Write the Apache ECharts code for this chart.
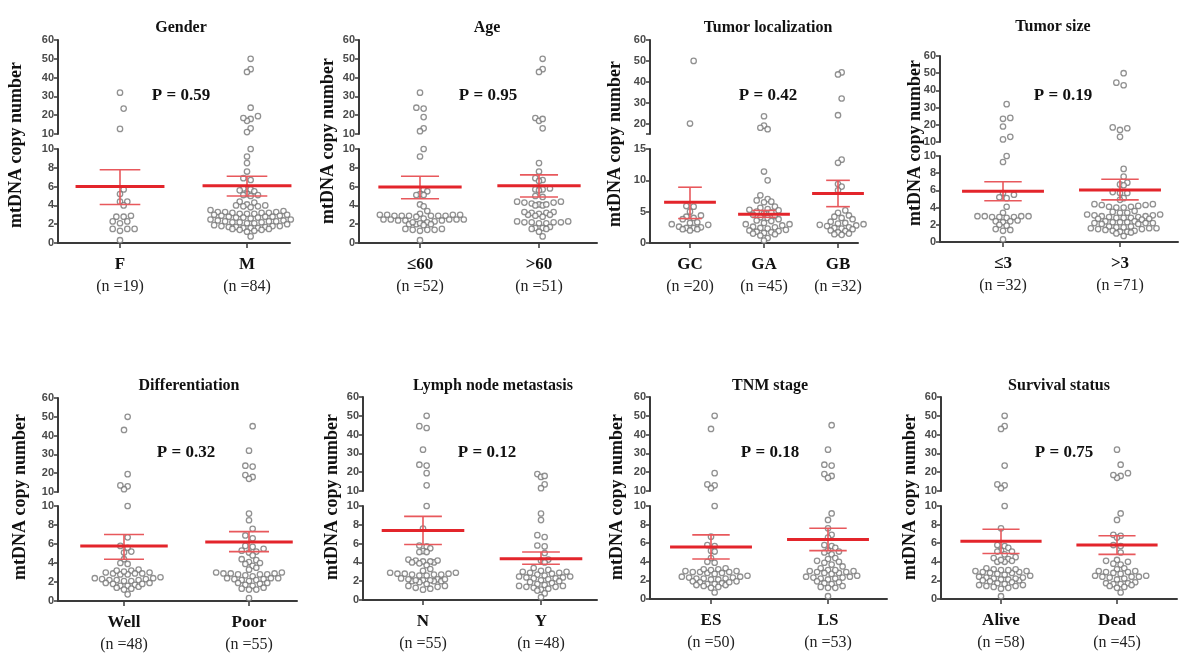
<!DOCTYPE html>
<html><head><meta charset="utf-8">
<script src="https://cdn.jsdelivr.net/npm/echarts@6/dist/echarts.min.js"></script>
<style>html,body{margin:0;padding:0;background:#fff}#c{width:1200px;height:668px}</style>
</head><body><div id="c"></div>
<script>
// ---------------- data ----------------
const titles = ['Gender', 'Age', 'Tumor localization', 'Tumor size', 'Differentiation', 'Lymph node metastasis', 'TNM stage', 'Survival status'];
const pLabels = ['P = 0.59', 'P = 0.95', 'P = 0.42', 'P = 0.19', 'P = 0.32', 'P = 0.12', 'P = 0.18', 'P = 0.75'];
const categories = [['F', 'M'], ['≤60', '>60'], ['GC', 'GA', 'GB'], ['≤3', '>3'], ['Well', 'Poor'], ['N', 'Y'], ['ES', 'LS'], ['Alive', 'Dead']];
const groupN = [[19, 84], [52, 51], [20, 45, 32], [32, 71], [48, 55], [55, 48], [50, 53], [58, 45]];
const yAxisName = 'mtDNA copy number';
const breakValues = [10, 10, 15, 10, 10, 10, 10, 10];
const axisTop = 60;
const lowerTicks = [0, 2, 4, 6, 8, 10];
const upperTicks = [10, 20, 30, 40, 50, 60];
const locLowerTicks = [0, 5, 10, 15];
const locUpperTicks = [15, 20, 30, 40, 50, 60];
const locUpperLabels = [20, 30, 40, 50, 60];

const meanValues = [[6.0, 6.1], [5.95, 6.1], [6.5, 4.6, 7.9], [5.9, 6.05], [5.8, 6.2], [7.4, 4.4], [5.6, 6.4], [6.2, 5.8]];
const semLow = [[4.1, 5.0], [4.7, 4.9], [3.9, 4.1, 5.8], [4.8, 4.9], [4.4, 5.2], [5.9, 3.8], [4.3, 5.2], [4.9, 4.8]];
const semHigh = [[7.8, 7.1], [7.1, 7.25], [8.9, 5.2, 10.0], [7.0, 7.3], [7.0, 7.3], [8.9, 5.1], [6.9, 7.6], [7.5, 6.8]];

const gender_F = [32, 23.5, 12.7, 5.7, 5.2, 4.4, 4.4, 4.0, 2.9, 2.8, 2.8, 2.3, 2.1, 2.3, 1.5, 1.5, 1.5, 1.3, 0.3];
const gender_M = [50, 44.5, 43, 24, 19.5, 18, 17, 18.5, 13, 11, 10.0, 9.2, 8.5, 7.6, 6.9, 6.7, 5.8, 5.7, 5.6, 5.5, 5.2, 5.1, 5.1, 5.0, 4.4, 4.3, 4.1, 4.0, 4.0, 3.9, 3.9, 3.8, 3.1, 3.1, 3.1, 3.2, 3.2, 3.2, 3.3, 3.3, 3.3, 3.4, 3.5, 2.6, 2.7, 2.7, 2.7, 2.8, 2.8, 2.8, 2.9, 2.9, 3.0, 3.0, 2.1, 2.1, 2.2, 2.2, 2.2, 2.3, 2.3, 2.3, 2.4, 2.4, 2.5, 2.5, 1.6, 1.6, 1.6, 1.7, 1.7, 1.7, 1.8, 1.8, 1.8, 1.9, 2.0, 1.2, 1.3, 1.4, 1.4, 1.5, 1.5, 0.7];
const age_le60 = [32, 23.5, 24, 19, 13, 11.5, 10.0, 9.2, 5.7, 5.5, 5.2, 5.1, 5.1, 4.1, 3.9, 3.4, 3.1, 3.0, 3.0, 2.9, 2.9, 2.9, 2.9, 2.9, 2.8, 2.9, 3.0, 3.0, 2.6, 2.5, 2.5, 2.4, 2.5, 2.4, 2.5, 2.4, 2.5, 2.3, 2.2, 2.0, 2.1, 2.0, 1.9, 2.0, 2.2, 1.5, 1.4, 1.4, 1.3, 1.4, 1.5, 0.3];
const age_gt60 = [50, 44.5, 43, 18.5, 17, 18, 13, 8.5, 7.6, 6.9, 6.7, 6.6, 5.8, 5.7, 5.7, 5.6, 5.0, 4.9, 4.4, 4.3, 4.2, 4.1, 4.0, 4.0, 4.1, 4.3, 4.4, 3.3, 3.2, 3.0, 3.1, 3.2, 3.0, 3.3, 2.9, 2.8, 2.3, 2.2, 2.2, 2.1, 2.2, 2.3, 2.1, 2.2, 1.7, 1.6, 1.5, 1.6, 1.5, 1.2, 0.7];
const loc_GC = [50, 20, 5.9, 5.8, 5.0, 4.4, 4.2, 4.0, 3.8, 3.3, 3.2, 3.0, 2.9, 2.6, 2.5, 2.4, 2.4, 2.2, 2.2, 2.0];
const loc_GA = [23.5, 19, 18, 17.3, 11.4, 10.0, 7.6, 7.0, 6.8, 6.6, 6.5, 5.8, 5.6, 5.4, 5.3, 5.2, 5.0, 4.9, 4.7, 4.5, 4.3, 4.1, 4.0, 3.8, 3.6, 3.5, 3.2, 3.0, 3.0, 2.8, 2.6, 2.5, 2.4, 2.3, 2.1, 2.0, 1.9, 1.8, 1.7, 1.6, 1.5, 1.4, 1.2, 0.8, 0.4];
const loc_GB = [44.5, 43.5, 32, 24, 13.3, 12.8, 9.4, 9.0, 8.4, 5.2, 4.8, 4.4, 4.2, 4.0, 3.8, 3.4, 3.2, 3.1, 3.0, 2.9, 2.8, 2.7, 2.5, 2.4, 2.3, 2.2, 2.0, 1.9, 1.7, 1.5, 1.4, 1.3];
const size_le3 = [32, 23.5, 24, 19, 13, 11.5, 10.0, 9.3, 5.7, 5.5, 5.2, 5.1, 4.1, 3.4, 3.0, 3.0, 2.9, 2.9, 2.8, 2.9, 3.0, 3.0, 2.5, 2.4, 2.4, 2.3, 2.0, 1.9, 1.5, 1.4, 1.3, 0.3];
const size_gt3 = [50, 44.5, 43, 18.5, 17, 18, 13, 8.5, 7.6, 6.9, 6.7, 6.6, 5.8, 5.7, 5.7, 5.1, 4.9, 4.4, 4.3, 4.2, 4.1, 4.0, 4.0, 4.1, 4.3, 4.4, 3.4, 3.5, 3.2, 3.1, 3.2, 3.0, 3.6, 3.1, 3.0, 3.4, 2.9, 2.8, 2.7, 2.8, 2.9, 2.7, 2.8, 2.6, 2.4, 2.3, 2.2, 2.2, 2.1, 2.3, 2.2, 2.4, 2.1, 2.3, 1.8, 1.7, 1.6, 1.6, 1.5, 1.7, 1.8, 1.6, 1.5, 1.4, 1.3, 1.2, 1.2, 1.3, 1.0, 0.7, 1.1];
const diff_well = [50, 43, 19.5, 13, 11.5, 13.5, 10.0, 6.7, 5.8, 5.6, 5.2, 5.1, 4.4, 4.0, 3.9, 3.3, 3.2, 3.0, 2.9, 2.9, 2.8, 2.8, 2.9, 3.0, 3.1, 3.2, 2.5, 2.4, 2.3, 2.2, 2.2, 2.1, 2.2, 2.3, 2.4, 2.1, 1.9, 1.8, 1.7, 1.6, 1.5, 1.6, 1.8, 1.9, 1.3, 1.2, 1.4, 0.7];
const diff_poor = [45, 32, 24, 23.5, 19, 18, 17, 9.2, 8.5, 7.6, 6.9, 6.6, 5.8, 5.7, 5.5, 5.3, 5.2, 5.1, 4.8, 4.4, 4.3, 4.1, 4.0, 3.9, 3.7, 3.5, 3.3, 3.0, 2.9, 2.9, 2.8, 2.7, 2.8, 2.9, 2.6, 3.0, 2.8, 2.4, 2.3, 2.2, 2.1, 2.3, 2.4, 2.2, 2.4, 1.9, 1.8, 1.6, 1.7, 1.9, 1.4, 1.3, 1.2, 1.2, 0.3];
const lymph_N = [50, 43.5, 44.5, 32, 24, 23.5, 19.5, 13, 10.0, 7.6, 5.8, 5.7, 5.5, 5.2, 5.1, 5.1, 4.3, 4.2, 4.1, 4.0, 4.0, 3.9, 4.1, 4.2, 3.7, 3.3, 3.1, 2.9, 2.8, 2.7, 2.6, 2.7, 2.8, 2.9, 2.6, 2.7, 2.8, 2.3, 2.2, 2.1, 2.0, 2.0, 2.1, 2.2, 2.0, 1.9, 2.1, 2.2, 1.7, 1.5, 1.4, 1.3, 1.5, 1.2, 1.1];
const lymph_Y = [19, 17.5, 18, 13.5, 11.5, 9.2, 8.5, 6.9, 6.7, 5.8, 5.7, 5.0, 4.3, 4.2, 4.0, 3.4, 3.2, 3.0, 2.9, 2.8, 2.9, 3.0, 3.1, 2.7, 2.6, 2.5, 2.4, 2.3, 2.2, 2.3, 2.4, 2.1, 2.5, 2.0, 1.9, 1.8, 1.7, 1.6, 1.5, 1.4, 1.3, 1.4, 1.5, 1.2, 1.1, 0.7, 0.3, 1.0];
const tnm_ES = [50, 43, 19.5, 13, 11.5, 13.5, 10.0, 6.7, 5.8, 5.7, 5.2, 5.1, 4.4, 4.0, 3.9, 3.3, 3.2, 3.0, 2.9, 2.9, 2.8, 2.8, 2.9, 3.0, 3.1, 3.2, 2.7, 2.5, 2.4, 2.3, 2.2, 2.2, 2.1, 2.2, 2.3, 2.4, 2.1, 1.9, 1.8, 1.7, 1.6, 1.5, 1.6, 1.8, 1.9, 1.3, 1.2, 1.4, 1.5, 0.7];
const tnm_LS = [45, 32, 24, 23.5, 19, 18, 17, 9.2, 8.5, 7.6, 6.9, 6.6, 5.8, 5.7, 5.5, 5.2, 5.1, 5.0, 4.8, 4.4, 4.3, 4.1, 4.0, 3.9, 3.7, 3.5, 3.3, 3.1, 3.0, 2.9, 2.8, 2.7, 2.8, 2.9, 3.0, 3.1, 2.4, 2.3, 2.2, 2.1, 2.3, 2.4, 2.2, 2.5, 1.9, 1.8, 1.6, 1.7, 1.4, 1.3, 1.2, 1.2, 0.3];
const surv_alive = [50, 44.5, 43, 23.5, 13, 11.5, 13.5, 10.0, 7.6, 5.8, 5.7, 5.5, 5.2, 5.1, 5.1, 4.8, 4.5, 4.4, 4.3, 4.0, 4.0, 4.1, 4.2, 3.3, 3.2, 3.1, 3.0, 2.9, 2.8, 2.8, 2.9, 3.0, 3.1, 3.2, 2.7, 2.6, 2.5, 2.4, 2.3, 2.2, 2.1, 2.0, 2.1, 2.2, 2.0, 2.3, 1.9, 1.8, 1.7, 1.6, 1.5, 1.4, 1.3, 1.4, 1.5, 1.2, 1.1, 0.3];
const surv_dead = [32, 24, 19.5, 18, 17, 18.5, 9.2, 8.5, 6.9, 6.8, 6.6, 5.8, 5.7, 5.0, 4.2, 4.1, 4.0, 3.8, 3.7, 3.3, 3.2, 3.0, 2.9, 2.8, 2.7, 2.9, 3.0, 2.5, 2.4, 2.4, 2.3, 2.2, 2.1, 2.5, 2.4, 1.8, 1.7, 1.6, 1.5, 1.6, 1.7, 1.3, 1.2, 1.4, 0.7];

const panelGroups = [
  [gender_F, gender_M], [age_le60, age_gt60], [loc_GC, loc_GA, loc_GB], [size_le3, size_gt3],
  [diff_well, diff_poor], [lymph_N, lymph_Y], [tnm_ES, tnm_LS], [surv_alive, surv_dead]
];

// ---------------- layout (pixels) ----------------
const layout = [
  {axisX: 58, cat0: 120, catN: 247, endX: 290, upTop: 40, upBot: 134, loTop: 149, loBot: 243},
  {axisX: 359, cat0: 420, catN: 539, endX: 597, upTop: 40, upBot: 134, loTop: 149, loBot: 243},
  {axisX: 650, cat0: 690, catN: 838, endX: 858, upTop: 40, upBot: 134, loTop: 149, loBot: 243},
  {axisX: 940, cat0: 1003, catN: 1120, endX: 1178, upTop: 56, upBot: 142, loTop: 156, loBot: 242},
  {axisX: 58, cat0: 124, catN: 249, endX: 297, upTop: 398, upBot: 492, loTop: 506, loBot: 601},
  {axisX: 363, cat0: 423, catN: 541, endX: 597, upTop: 397, upBot: 491, loTop: 506, loBot: 600},
  {axisX: 650, cat0: 711, catN: 828, endX: 887, upTop: 397, upBot: 491, loTop: 506, loBot: 599},
  {axisX: 941, cat0: 1001, catN: 1117, endX: 1177, upTop: 397, upBot: 491, loTop: 506, loBot: 599}
];
const titlePos = [[181, 28], [487, 28], [768, 28], [1053, 27], [189, 386], [493, 386], [770, 386], [1059, 386]];
const pPos = [[181, 96], [488, 96], [768, 96], [1063, 96], [186, 453], [487, 453], [770, 453], [1064, 453]];
const yNamePos = [[16, 145], [328, 141], [615, 144], [915, 143], [20, 497], [332, 497], [617, 497], [910, 497]];

const serif = "'Liberation Serif','Times New Roman',serif";
const tickLabelStyle = {fontFamily: "'Liberation Sans',Arial,sans-serif", fontWeight: 'bold', fontSize: 11, color: '#4a4a4a', margin: 4};
const axisLine = {show: true, onZero: false, lineStyle: {color: '#3a3a3a', width: 2}};
const DOT = 5.4, ROW_H = 4.8, SLOT_W = 7.3;

// honeycomb dot-plot offsets (pixels) computed from the values:
// rows of height ROW_H, alternate rows shifted by half a slot
function dotRows(vals, pxPerUnit) {
  const bins = {};
  vals.forEach((v, i) => { const b = Math.floor(v * pxPerUnit / ROW_H); (bins[b] = bins[b] || []).push(i); });
  const out = new Array(vals.length);
  Object.keys(bins).forEach(key => {
    const odd = Math.abs(Number(key)) % 2 === 1;
    const list = bins[key].slice().sort((a, b) => vals[a] - vals[b]);
    const slots = [];
    if (!odd) {
      slots.push(0);
      for (let s = 1; slots.length < list.length; s++) { slots.push(s * SLOT_W); slots.push(-s * SLOT_W); }
    } else {
      for (let s = 0; slots.length < list.length; s++) { slots.push((s + 0.5) * SLOT_W); slots.push(-(s + 0.5) * SLOT_W); }
    }
    list.forEach((idx, j) => { out[idx] = slots[j]; });
  });
  return out;
}

const option = {animation: false, backgroundColor: '#fff', grid: [], xAxis: [], yAxis: [], series: [], graphic: []};

panelGroups.forEach((groups, k) => {
  const L = layout[k];
  const cats = categories[k];
  const nCat = cats.length;
  const spacing = (L.catN - L.cat0) / (nCat - 1);
  const xMin = -(L.cat0 - L.axisX) / spacing;
  const xMax = (nCat - 1) + (L.endX - L.catN) / spacing;
  const brk = breakValues[k];
  const up = 2 * k, lo = 2 * k + 1;
  const upPx = (L.upBot - L.upTop) / (axisTop - brk);
  const loPx = (L.loBot - L.loTop) / brk;
  const isLoc = brk === 15;

  option.grid.push({left: L.axisX, top: L.upTop, width: L.endX - L.axisX, height: L.upBot - L.upTop});
  option.grid.push({left: L.axisX, top: L.loTop, width: L.endX - L.axisX, height: L.loBot - L.loTop});

  option.xAxis.push({gridIndex: up, type: 'value', min: xMin, max: xMax, show: false});
  const catIdx = cats.map((c, i) => i);
  option.xAxis.push({
    gridIndex: lo, type: 'value', min: xMin, max: xMax,
    axisLine: axisLine, splitLine: {show: false},
    axisTick: {show: true, customValues: catIdx, length: 5, lineStyle: {color: '#3a3a3a', width: 1.5}},
    axisLabel: {
      customValues: catIdx, margin: 10,
      formatter: v => { const i = Math.round(v); return '{c|' + cats[i] + '}\n{n|(n =' + groupN[k][i] + ')}'; },
      rich: {
        c: {fontFamily: serif, fontWeight: 'bold', fontSize: 17, color: '#111', lineHeight: 23},
        n: {fontFamily: serif, fontSize: 16, color: '#222', lineHeight: 22}
      }
    }
  });

  const upTickVals = isLoc ? locUpperTicks : upperTicks;
  const upLabelVals = isLoc ? locUpperLabels : upperTicks;
  const loTickVals = isLoc ? locLowerTicks : lowerTicks;
  option.yAxis.push({
    gridIndex: up, type: 'value', min: brk, max: axisTop,
    axisLine: axisLine, splitLine: {show: false},
    axisTick: {show: true, customValues: upTickVals, length: 4, lineStyle: {color: '#3a3a3a', width: 1.5}},
    axisLabel: Object.assign({customValues: upLabelVals, showMinLabel: true, showMaxLabel: true}, tickLabelStyle)
  });
  option.yAxis.push({
    gridIndex: lo, type: 'value', min: 0, max: brk,
    axisLine: axisLine, splitLine: {show: false},
    axisTick: {show: true, customValues: loTickVals, length: 4, lineStyle: {color: '#3a3a3a', width: 1.5}},
    axisLabel: Object.assign({customValues: loTickVals, showMinLabel: true, showMaxLabel: true}, tickLabelStyle)
  });

  const upData = [], loData = [];
  groups.forEach((vals, g) => {
    const lowVals = vals.filter(v => v <= brk);
    const highVals = vals.filter(v => v > brk);
    dotRows(lowVals, loPx).forEach((off, i) => loData.push([g + off / spacing, lowVals[i]]));
    dotRows(highVals, upPx).forEach((off, i) => upData.push([g + off / spacing, highVals[i]]));
  });
  const dotStyle = {color: '#ffffff', borderColor: '#767676', borderWidth: 1.3};
  option.series.push({type: 'scatter', xAxisIndex: up, yAxisIndex: up, data: upData, symbol: 'circle', symbolSize: DOT, itemStyle: dotStyle, clip: false, silent: true, z: 2});
  option.series.push({type: 'scatter', xAxisIndex: lo, yAxisIndex: lo, data: loData, symbol: 'circle', symbolSize: DOT, itemStyle: dotStyle, clip: false, silent: true, z: 2});

  const statData = cats.map((c, g) => [g, meanValues[k][g], semLow[k][g], semHigh[k][g]]);
  option.series.push({
    type: 'custom', xAxisIndex: lo, yAxisIndex: lo, data: statData, z: 5, silent: true, clip: false,
    encode: {x: 0, y: [1, 2, 3]},
    renderItem: (params, api) => {
      const x = api.value(0), m = api.value(1), l = api.value(2), h = api.value(3);
      const a = api.coord([x - 0.35, m]), b = api.coord([x + 0.35, m]);
      const pl = api.coord([x, l]), ph = api.coord([x, h]);
      const c1 = api.coord([x - 0.16, l]), c2 = api.coord([x + 0.16, l]);
      const d1 = api.coord([x - 0.16, h]), d2 = api.coord([x + 0.16, h]);
      const thin = {stroke: '#e8585c', lineWidth: 1.6};
      return {type: 'group', children: [
        {type: 'line', shape: {x1: pl[0], y1: pl[1], x2: ph[0], y2: ph[1]}, style: thin},
        {type: 'line', shape: {x1: c1[0], y1: c1[1], x2: c2[0], y2: c2[1]}, style: thin},
        {type: 'line', shape: {x1: d1[0], y1: d1[1], x2: d2[0], y2: d2[1]}, style: thin},
        {type: 'line', shape: {x1: a[0], y1: a[1], x2: b[0], y2: b[1]}, style: {stroke: '#e3252b', lineWidth: 3}}
      ]};
    }
  });

  option.graphic.push({type: 'text', x: titlePos[k][0], y: titlePos[k][1], silent: true,
    style: {text: titles[k], fontFamily: serif, fontWeight: 'bold', fontSize: 16, fill: '#111', align: 'center', verticalAlign: 'middle'}});
  option.graphic.push({type: 'text', x: pPos[k][0], y: pPos[k][1], silent: true,
    style: {text: pLabels[k], fontFamily: serif, fontWeight: 'bold', fontSize: 17, fill: '#111', align: 'center', verticalAlign: 'middle'}});
  option.graphic.push({type: 'text', x: yNamePos[k][0], y: yNamePos[k][1], rotation: Math.PI / 2, silent: true,
    style: {text: yAxisName, fontFamily: serif, fontWeight: 'bold', fontSize: 18, fill: '#111', align: 'center', verticalAlign: 'middle'}});
});

const chart = echarts.init(document.getElementById('c'));
chart.setOption(option);
</script>
</body></html>
